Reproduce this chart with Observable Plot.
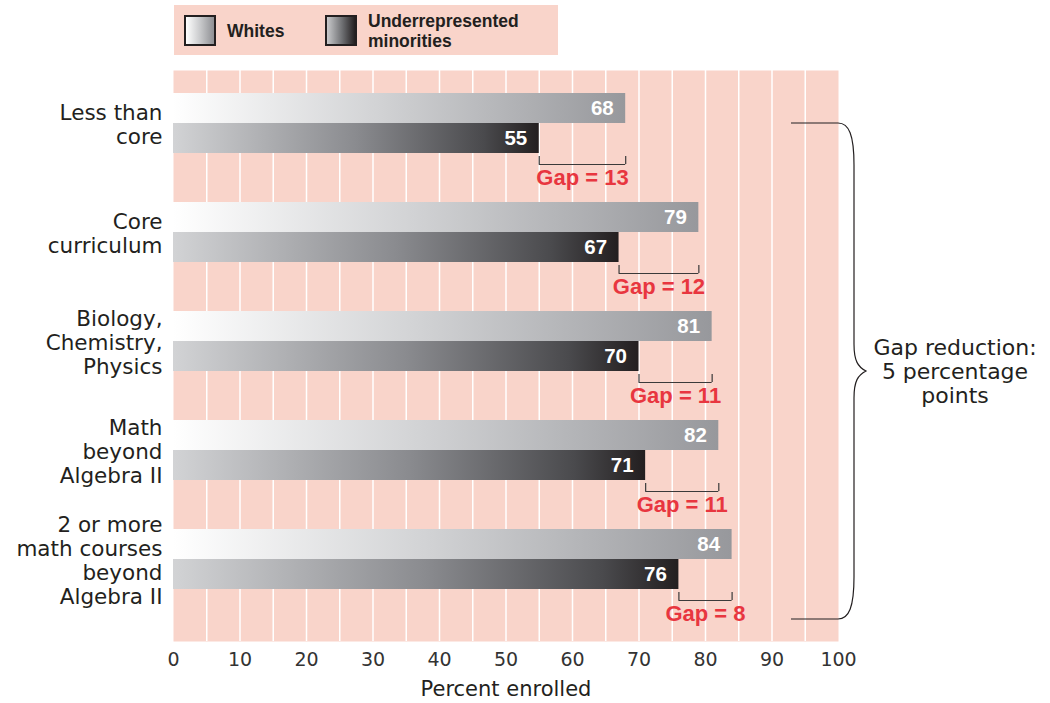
<!DOCTYPE html>
<html>
<head>
<meta charset="utf-8">
<script src="https://cdn.jsdelivr.net/npm/d3@7"></script>
<script src="https://cdn.jsdelivr.net/npm/@observablehq/plot@0.6"></script>
<style>
  html, body { margin: 0; padding: 0; background: #ffffff; }
  #wrap { position: relative; width: 1050px; height: 703px; overflow: hidden; }
  #legend { position: absolute; left: 174px; top: 5px; width: 384px; height: 50px; background: #f9d4ca;
            font-family: "Liberation Sans", Arial, sans-serif; font-weight: bold; color: #231f20; }
  .sw { position: absolute; top: 10px; width: 28px; height: 27px; border: 2px solid #231f20; }
  .lt { position: absolute; font-size: 17.5px; line-height: 20px; }
</style>
</head>
<body>
<svg width="0" height="0" style="position:absolute">
  <defs>
    <linearGradient id="gWhite" x1="0" y1="0" x2="1" y2="0">
      <stop offset="0" stop-color="#ffffff"/>
      <stop offset="0.45" stop-color="#d2d3d5"/>
      <stop offset="1" stop-color="#97989c"/>
    </linearGradient>
    <linearGradient id="gMin" x1="0" y1="0" x2="1" y2="0">
      <stop offset="0" stop-color="#d2d3d5"/>
      <stop offset="0.5" stop-color="#8a8b8f"/>
      <stop offset="0.85" stop-color="#4a4a4d"/>
      <stop offset="1" stop-color="#231f20"/>
    </linearGradient>
  </defs>
</svg>
<div id="wrap">
  <div id="chart"></div>
  <div id="legend">
    <div class="sw" style="left:10px; background: linear-gradient(to right, #ffffff, #c9cacc 50%, #8e8f93);"></div>
    <div class="lt" style="left:53px; top:16px;">Whites</div>
    <div class="sw" style="left:151px; background: linear-gradient(to right, #c9cacc, #6d6e71 55%, #231f20);"></div>
    <div class="lt" style="left:194px; top:6px;">Underrepresented<br>minorities</div>
  </div>
</div>
<script>
// ---- data ----
const categories = ["Less than\ncore", "Core\ncurriculum", "Biology,\nChemistry,\nPhysics", "Math\nbeyond\nAlgebra II", "2 or more\nmath courses\nbeyond\nAlgebra II"];
const whites = [68, 79, 81, 82, 84];
const minorities = [55, 67, 70, 71, 76];
const xTicks = [0, 10, 20, 30, 40, 50, 60, 70, 80, 90, 100];
const gridLines = [5, 10, 15, 20, 25, 30, 35, 40, 45, 50, 55, 60, 65, 70, 75, 80, 85, 90, 95];
const xLabel = "Percent enrolled";
const braceLines = ["Gap reduction:", "5 percentage", "points"];

const rows = categories.map((c, i) => ({cat: c, w: whites[i], m: minorities[i], gap: whites[i] - minorities[i]}));

const PINK = "#f9d4ca";
const RED = "#e8363f";
const INK = "#231f20";
const SANS = "DejaVu Sans, sans-serif";
const BOLD = "Liberation Sans, Arial, sans-serif";

function brace(index, scales, values, dimensions) {
  const sx = scales.x, sy = scales.y;
  const bw = typeof sy.bandwidth === "function" ? sy.bandwidth() : 60;
  const x100 = sx(100);
  const yTop = sy(categories[0]) + bw / 2;
  const yBot = sy(categories[categories.length - 1]) + bw / 2 + bw;
  const yMid = (yTop + yBot) / 2;
  const xs = x100 - 47, xv = x100 + 16, xt = x100 + 28;
  const g = document.createElementNS("http://www.w3.org/2000/svg", "g");
  const p = document.createElementNS("http://www.w3.org/2000/svg", "path");
  const d = `M${xs},${yTop} H${x100} C${x100 + 11},${yTop} ${xv},${yTop + 12} ${xv},${yTop + 42} ` +
            `L${xv},${yMid - 27} C${xv},${yMid - 10} ${xv + 4},${yMid - 4} ${xt},${yMid} ` +
            `C${xv + 4},${yMid + 4} ${xv},${yMid + 10} ${xv},${yMid + 27} ` +
            `L${xv},${yBot - 42} C${xv},${yBot - 12} ${x100 + 11},${yBot} ${x100},${yBot} H${xs}`;
  p.setAttribute("d", d);
  p.setAttribute("fill", "none");
  p.setAttribute("stroke", INK);
  p.setAttribute("stroke-width", "1.2");
  g.appendChild(p);
  const t = document.createElementNS("http://www.w3.org/2000/svg", "text");
  t.setAttribute("text-anchor", "middle");
  t.setAttribute("font-family", SANS);
  t.setAttribute("font-size", "22");
  t.setAttribute("fill", INK);
  braceLines.forEach((line, i) => {
    const ts = document.createElementNS("http://www.w3.org/2000/svg", "tspan");
    ts.setAttribute("x", x100 + 117);
    ts.setAttribute("y", yMid + (i - 1) * 24 + 7.5);
    ts.textContent = line;
    t.appendChild(ts);
  });
  g.appendChild(t);
  return g;
}

const chart = Plot.plot({
  width: 1050,
  height: 703,
  marginLeft: 173,
  marginRight: 212,
  marginTop: 70,
  marginBottom: 62,
  style: {background: "transparent", overflow: "visible"},
  x: {domain: [0, 100], axis: null},
  y: {type: "band", domain: categories, axis: null, paddingInner: 0.4495, paddingOuter: 0.3394, align: 0.311},
  marks: [
    Plot.frame({fill: PINK, stroke: null}),
    Plot.ruleX(gridLines, {stroke: "#ffffff", strokeWidth: 1.5}),
    Plot.barX(rows, {x: "w", y: "cat", insetBottom: 30, fill: "url(#gWhite)"}),
    Plot.barX(rows, {x: "m", y: "cat", insetTop: 30, fill: "url(#gMin)"}),
    Plot.text(rows, {x: "w", y: "cat", text: d => String(d.w), dy: -15, dx: -12, textAnchor: "end",
      fill: "#ffffff", fontFamily: BOLD, fontWeight: "bold", fontSize: 20.5}),
    Plot.text(rows, {x: "m", y: "cat", text: d => String(d.m), dy: 15, dx: -12, textAnchor: "end",
      fill: "#ffffff", fontFamily: BOLD, fontWeight: "bold", fontSize: 20.5}),
    Plot.ruleY(rows, {y: "cat", x1: "m", x2: "w", dy: 41, stroke: "#3a3a3a", strokeWidth: 1.2}),
    Plot.tickX(rows, {x: "m", y: "cat", insetTop: 63, insetBottom: -11, stroke: "#3a3a3a", strokeWidth: 1.2}),
    Plot.tickX(rows, {x: "w", y: "cat", insetTop: 63, insetBottom: -11, stroke: "#3a3a3a", strokeWidth: 1.2}),
    Plot.text(rows, {x: d => (d.m + d.w) / 2, y: "cat", text: d => `Gap = ${d.gap}`, dy: 54,
      fill: RED, fontFamily: BOLD, fontWeight: "bold", fontSize: 22}),
    Plot.text(rows, {y: "cat", text: "cat", frameAnchor: "left", dx: -11, dy: 1, textAnchor: "end",
      lineHeight: 1.12, fill: INK, fontFamily: SANS, fontSize: 21.5}),
    Plot.text(xTicks, {x: d => d, text: d => String(d), frameAnchor: "bottom", dy: 24,
      fill: "#333333", fontFamily: SANS, fontSize: 19}),
    Plot.text([xLabel], {text: d => d, frameAnchor: "bottom", dy: 54,
      fill: INK, fontFamily: SANS, fontSize: 21}),
    brace
  ]
});
document.getElementById("chart").appendChild(chart);
</script>
</body>
</html>
